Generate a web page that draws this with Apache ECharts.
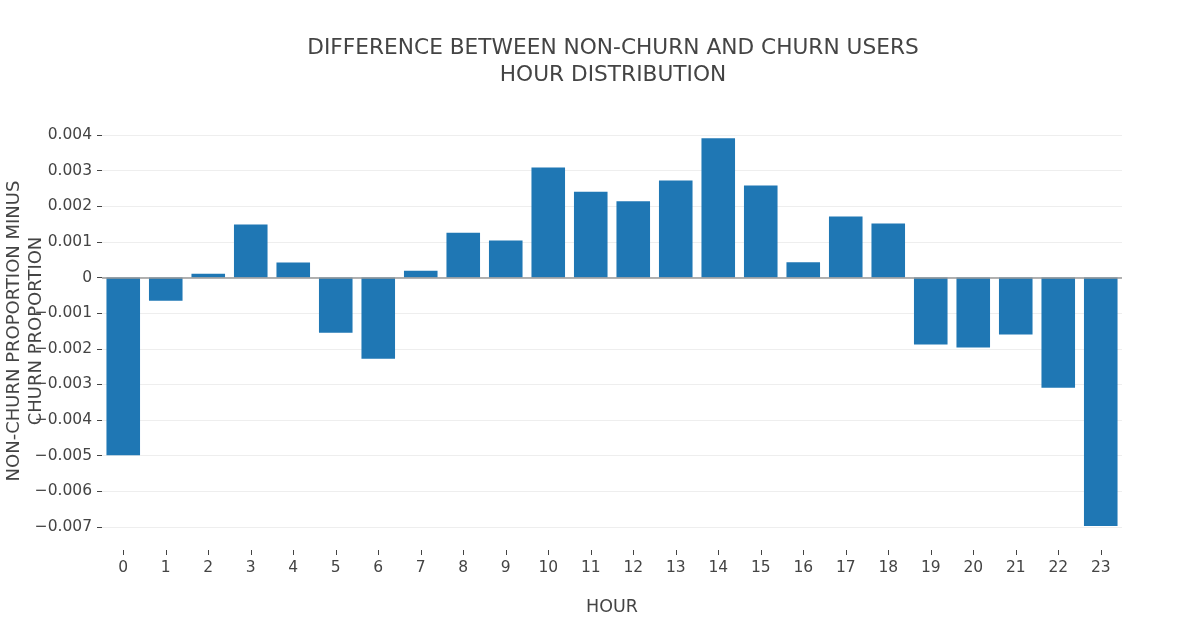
<!DOCTYPE html>
<html>
<head>
<meta charset="utf-8">
<script src="https://cdn.jsdelivr.net/npm/echarts@6/dist/echarts.min.js"></script>
<style>html,body{margin:0;padding:0;background:#fff}#c{width:1185px;height:628px}</style>
</head>
<body>
<div id="c"></div>
<script>
const hours = ['0','1','2','3','4','5','6','7','8','9','10','11','12','13','14','15','16','17','18','19','20','21','22','23'];
const diffValues = [-0.00499, -0.00065, 0.00011, 0.00149, 0.00042, -0.00155, -0.00228, 0.00019, 0.00126, 0.00104, 0.00309, 0.00241, 0.00214, 0.00272, 0.00391, 0.00258, 0.00043, 0.00171, 0.00152, -0.00188, -0.00196, -0.00160, -0.00309, -0.00697];
const yTicks = { min: -0.007, max: 0.004, interval: 0.001 };

const chart = echarts.init(document.getElementById('c'), null, {renderer: 'canvas'});
const font = '"DejaVu Sans", Verdana, sans-serif';
const fmt = v => {
  const r = Math.round(v * 1000) / 1000;
  if (r === 0) return '0';
  return (r < 0 ? '\u2212' : '') + Math.abs(r).toFixed(3);
};
chart.setOption({
  animation: false,
  textStyle: {fontFamily: font, color: '#444'},
  title: {
    text: 'DIFFERENCE BETWEEN NON-CHURN AND CHURN USERS\nHOUR DISTRIBUTION',
    left: 608, top: 30, textAlign: 'center',
    textStyle: {fontFamily: font, fontSize: 21.7, fontWeight: 'normal', color: '#444', lineHeight: 27}
  },
  grid: {left: 102, right: 63, top: 135, bottom: 101, outerBoundsMode: 'none', containLabel: false},
  xAxis: {
    type: 'category', data: hours,
    name: 'HOUR', nameLocation: 'middle', nameGap: 48, nameMoveOverlap: false,
    nameTextStyle: {fontFamily: font, fontSize: 17.5, color: '#444'},
    offset: 23,
    axisLine: {show: false, onZero: false},
    axisTick: {show: true, alignWithLabel: true, length: 5, lineStyle: {color: '#444'}},
    axisLabel: {fontFamily: font, fontSize: 15.5, color: '#444', margin: 10},
    splitLine: {show: false}
  },
  yAxis: {
    type: 'value', min: yTicks.min, max: yTicks.max, interval: yTicks.interval,
    name: 'NON-CHURN PROPORTION MINUS\nCHURN PROPORTION', nameLocation: 'middle', nameGap: 55, nameMoveOverlap: false,
    nameTextStyle: {fontFamily: font, fontSize: 18, color: '#444', lineHeight: 22},
    axisLine: {show: false},
    axisTick: {show: true, length: 5, lineStyle: {color: '#444'}},
    axisLabel: {fontFamily: font, fontSize: 15.5, color: '#444', margin: 10, formatter: fmt},
    splitLine: {show: true, lineStyle: {color: '#eeeeee', width: 1}}
  },
  series: [{
    type: 'bar', data: diffValues, barCategoryGap: '21%',
    itemStyle: {color: '#1f77b4'},
    markLine: {
      silent: true, symbol: 'none', label: {show: false},
      lineStyle: {color: '#999', width: 1.5, type: 'solid'},
      data: [{yAxis: 0}]
    }
  }]
});
</script>
</body>
</html>
